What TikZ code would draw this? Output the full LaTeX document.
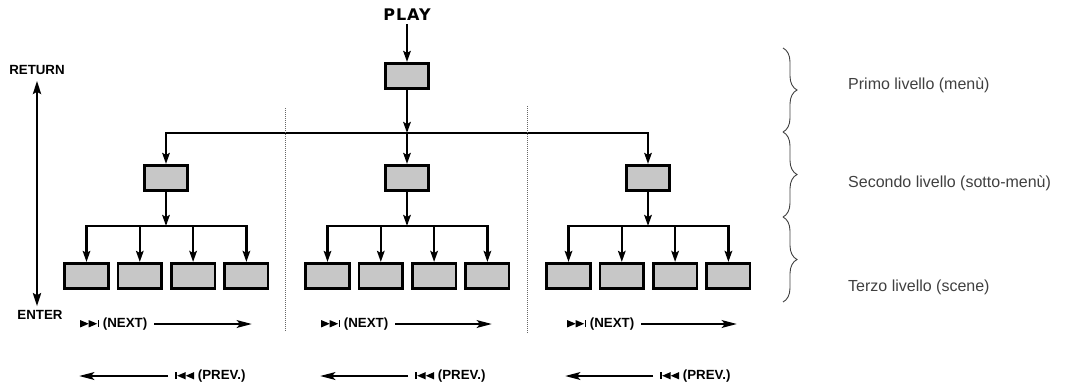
\documentclass[tikz,border=0pt]{standalone}
\usepackage{fontspec}
\setmainfont{Liberation Sans}
\newfontfamily\playfont{DejaVu Sans}
\usepackage{tikz}
\usetikzlibrary{arrows.meta,positioning,decorations.pathreplacing}

\newcommand{\nextsym}{\tikz[baseline=0pt,x=1pt,y=1pt]{\fill (0,0)--(8.5,3.7)--(0,7.4)--cycle; \fill (8.5,0)--(17,3.7)--(8.5,7.4)--cycle; \fill (17.5,0) rectangle (19,7.4);}}
\newcommand{\prevsym}{\tikz[baseline=0pt,x=1pt,y=1pt]{\fill (0,0) rectangle (1.5,7.4); \fill (2,3.7)--(10.5,0)--(10.5,7.4)--cycle; \fill (10.5,3.7)--(19,0)--(19,7.4)--cycle;}}

\begin{document}
\begin{tikzpicture}[
  x=1pt, y=-1pt,
  box/.style={draw, line width=2.6pt, fill=black!22, minimum width=43.5pt, minimum height=25.5pt, inner sep=0pt},
  arr/.style={-{Stealth[length=11pt,width=7.5pt,inset=2pt]}, line width=2.4pt},
  long/.style={-{Stealth[length=15pt,width=7.5pt,inset=3pt]}, line width=2.8pt},
  lbl/.style={font=\fontsize{13.3}{15}\selectfont\bfseries, inner sep=2pt, anchor=west},
  lvl/.style={font=\fontsize{16}{18}\selectfont, text=black!75, inner sep=0pt, anchor=west},
  brc/.style={decorate, decoration={brace, amplitude=14pt}, line width=0.9pt, black!75},
  sep/.style={line width=1pt, black!60, dash pattern=on 1pt off 1pt}
]
\useasboundingbox (0,0) rectangle (1070,384);

% tree
\node[font=\playfont\fontsize{16}{18}\selectfont\bfseries\addfontfeature{LetterSpace=6}] (play) at (407,15) {PLAY};
\node[box] (menu) at (407,76) {};
\node[box] (sub1) at (166,178) {};
\node[box] (sub2) at (407,178) {};
\node[box] (sub3) at (648,178) {};
\coordinate (top) at (407,133);
\draw[arr] (play) -- (menu);
\draw[arr] (menu) -- (top);
\draw[arr] (top) -| (sub1.north);
\draw[arr] (top) -- (sub2.north);
\draw[arr] (top) -| (sub3.north);

% scenes
\node[box] (a1) at (86.5,276) {};
\node[box, right=7.2pt of a1] (a2) {};
\node[box, right=7.2pt of a2] (a3) {};
\node[box, right=7.2pt of a3] (a4) {};
\node[box] (b1) at (327.5,276) {};
\node[box, right=7.2pt of b1] (b2) {};
\node[box, right=7.2pt of b2] (b3) {};
\node[box, right=7.2pt of b3] (b4) {};
\node[box] (c1) at (568.5,276) {};
\node[box, right=7.2pt of c1] (c2) {};
\node[box, right=7.2pt of c2] (c3) {};
\node[box, right=7.2pt of c3] (c4) {};
\coordinate (busa) at (166,226);
\coordinate (busb) at (407,226);
\coordinate (busc) at (648,226);
\draw[arr] (sub1) -- (busa);
\draw[arr] (sub2) -- (busb);
\draw[arr] (sub3) -- (busc);
\draw[arr] (busa) -| (a1.north);
\draw[arr] (busa) -| (a2.north);
\draw[arr] (busa) -| (a3.north);
\draw[arr] (busa) -| (a4.north);
\draw[arr] (busb) -| (b1.north);
\draw[arr] (busb) -| (b2.north);
\draw[arr] (busb) -| (b3.north);
\draw[arr] (busb) -| (b4.north);
\draw[arr] (busc) -| (c1.north);
\draw[arr] (busc) -| (c2.north);
\draw[arr] (busc) -| (c3.north);
\draw[arr] (busc) -| (c4.north);

% separators
\draw[sep] (285,108) -- (285,332);
\draw[sep] (527,106) -- (527,333);

% return / enter
\node[lbl, anchor=center] (ret) at (37,70) {RETURN};
\node[lbl, anchor=center] (ent) at (40,315) {ENTER};
\draw[{Stealth[length=13pt,width=8pt,inset=2pt]}-{Stealth[length=13pt,width=8pt,inset=2pt]}, line width=2.6pt, shorten <=4pt, shorten >=2pt] (ret.south) -- (ret.south |- ent.north);

% next / prev
\node[lbl] (n1) at (78,324) {\nextsym\ (NEXT)};
\node[lbl] (n2) at (319,324) {\nextsym\ (NEXT)};
\node[lbl] (n3) at (565,324) {\nextsym\ (NEXT)};
\coordinate (n1e) at (252,324);
\coordinate (n2e) at (492,324);
\coordinate (n3e) at (737,324);
\draw[long, shorten <=5pt] (n1) -- (n1e);
\draw[long, shorten <=5pt] (n2) -- (n2e);
\draw[long, shorten <=5pt] (n3) -- (n3e);
\node[lbl] (p1) at (173,376) {\prevsym\ (PREV.)};
\node[lbl] (p2) at (413,376) {\prevsym\ (PREV.)};
\node[lbl] (p3) at (658,376) {\prevsym\ (PREV.)};
\coordinate (p1e) at (79,376);
\coordinate (p2e) at (320,376);
\coordinate (p3e) at (565,376);
\draw[long, shorten <=5pt] (p1) -- (p1e);
\draw[long, shorten <=5pt] (p2) -- (p2e);
\draw[long, shorten <=5pt] (p3) -- (p3e);

% levels
\draw[brc] (783,48) -- (783,132);
\draw[brc] (783,132) -- (783,217);
\draw[brc] (783,217) -- (783,302);
\node[lvl] (l1) at (848,85) {Primo livello (menù)};
\node[lvl] (l2) at (848,183) {Secondo livello (sotto-menù)};
\node[lvl] (l3) at (848,287) {Terzo livello (scene)};
\end{tikzpicture}
\end{document}
